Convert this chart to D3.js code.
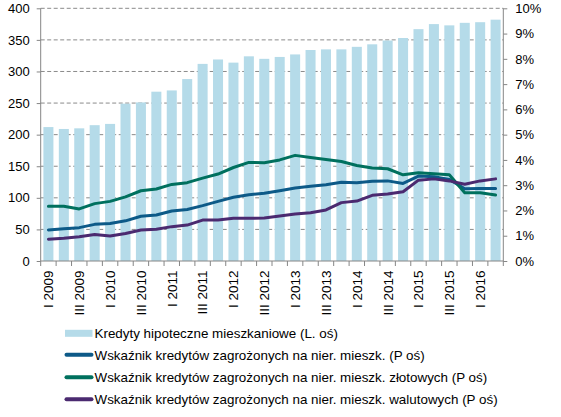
<!DOCTYPE html>
<html>
<head>
<meta charset="utf-8">
<script src="https://cdn.jsdelivr.net/npm/d3@7"></script>
<style>
  body { margin: 0; background: #fff; }
  text { font-family: "Liberation Sans", Arial, sans-serif; fill: #000; }
</style>
</head>
<body>
<div id="chart"></div>
<script>
// quarters 2009 Q1 .. 2016 Q2
const quarters = [
  "I 2009", "II 2009", "III 2009", "IV 2009",
  "I 2010", "II 2010", "III 2010", "IV 2010",
  "I 2011", "II 2011", "III 2011", "IV 2011",
  "I 2012", "II 2012", "III 2012", "IV 2012",
  "I 2013", "II 2013", "III 2013", "IV 2013",
  "I 2014", "II 2014", "III 2014", "IV 2014",
  "I 2015", "II 2015", "III 2015", "IV 2015",
  "I 2016", "II 2016"
]

// mortgage loans, left axis
const kredyty = [212, 209, 210, 215, 217, 249, 251, 268, 270, 288,
  312, 319, 314, 324, 320, 323, 327, 334, 335, 335,
  339, 343, 349, 353, 367, 375, 373, 377, 378, 382]

// NPL ratios, right axis (%)
const nplOgolem = [1.23, 1.28, 1.32, 1.45, 1.48, 1.59, 1.77, 1.82, 1.98, 2.04,
  2.19, 2.36, 2.52, 2.62, 2.68, 2.78, 2.89, 2.96, 3.02, 3.12,
  3.10, 3.16, 3.17, 3.07, 3.36, 3.33, 3.23, 2.86, 2.87, 2.87]
const nplPLN = [2.17, 2.17, 2.06, 2.27, 2.36, 2.54, 2.78, 2.85, 3.03, 3.10,
  3.28, 3.44, 3.70, 3.90, 3.89, 4.00, 4.18, 4.10, 4.02, 3.94,
  3.78, 3.68, 3.65, 3.41, 3.49, 3.45, 3.41, 2.70, 2.70, 2.61]
const nplWal = [0.86, 0.90, 0.96, 1.05, 0.99, 1.09, 1.23, 1.26, 1.36, 1.42,
  1.62, 1.62, 1.69, 1.69, 1.70, 1.78, 1.86, 1.91, 2.02, 2.31,
  2.37, 2.60, 2.65, 2.74, 3.20, 3.25, 3.17, 3.04, 3.17, 3.25]

const leftTicks = [0, 50, 100, 150, 200, 250, 300, 350, 400]
const rightTicks = [0, 1, 2, 3, 4, 5, 6, 7, 8, 9, 10]

const series = [
  { name: "Wskaźnik kredytów zagrożonych na nier. mieszk. (P oś)", values: nplOgolem, color: "#0d5a88" },
  { name: "Wskaźnik kredytów zagrożonych na nier. mieszk. złotowych (P oś)", values: nplPLN, color: "#00705e" },
  { name: "Wskaźnik kredytów zagrożonych na nier. mieszk. walutowych (P oś)", values: nplWal, color: "#4b2a70" }
]
const barName = "Kredyty hipoteczne mieszkaniowe (L. oś)"
const barColor = "#b5dbe9"

const width = 561
const height = 417
const plotLeft = 40.7, plotRight = 503.3, plotTop = 8.3, plotBottom = 261

const svg = d3.select("#chart")
  .append("svg")
  .attr("width", width)
  .attr("height", height)

const x = d3.scaleBand()
  .domain(quarters)
  .range([plotLeft, plotRight])
  .paddingInner(0.35)
  .paddingOuter(0.175)

const yL = d3.scaleLinear().domain([0, 400]).range([plotBottom, plotTop])
const yR = d3.scaleLinear().domain([0, 10]).range([plotBottom, plotTop])

// dashed grid behind bars
svg.append("g")
  .selectAll("line")
  .data(leftTicks.filter(d => d > 0))
  .enter()
  .append("line")
  .attr("x1", plotLeft)
  .attr("x2", plotRight)
  .attr("y1", d => yL(d))
  .attr("y2", d => yL(d))
  .style("stroke", "#8a8a8a")
  .style("stroke-width", 1)
  .style("stroke-dasharray", "4,2.5")

svg.append("g")
  .selectAll("rect")
  .data(kredyty)
  .enter()
  .append("rect")
  .attr("x", (d, i) => x(quarters[i]))
  .attr("width", x.bandwidth())
  .attr("y", d => yL(d))
  .attr("height", d => yL(0) - yL(d))
  .attr("fill", barColor)

// axes
const axisColor = "#868686"

const leftAxis = svg.append("g")
  .attr("transform", `translate(${plotLeft},0)`)
  .call(d3.axisLeft(yL).tickValues(leftTicks).tickSize(4).tickPadding(7))
const rightAxis = svg.append("g")
  .attr("transform", `translate(${plotRight},0)`)
  .call(d3.axisRight(yR).tickValues(rightTicks).tickSize(4).tickPadding(8).tickFormat(d => d + "%"))

;[leftAxis, rightAxis].forEach(a => {
  a.select(".domain").attr("stroke", axisColor).attr("d", `M0,${plotTop}V${plotBottom}`)
  a.selectAll(".tick line").attr("stroke", axisColor)
  a.selectAll(".tick text")
    .style("font-size", "13px")
    .style("font-family", "Liberation Sans, Arial, sans-serif")
    .attr("fill", "#000")
})

// x axis line and ticks at band edges
const xg = svg.append("g")
xg.append("line")
  .attr("x1", plotLeft).attr("x2", plotRight)
  .attr("y1", plotBottom).attr("y2", plotBottom)
  .style("stroke", axisColor)
xg.selectAll("line.tk")
  .data(d3.range(quarters.length + 1))
  .enter()
  .append("line")
  .attr("class", "tk")
  .attr("x1", i => plotLeft + i * x.step())
  .attr("x2", i => plotLeft + i * x.step())
  .attr("y1", plotBottom)
  .attr("y2", plotBottom + 5)
  .style("stroke", axisColor)

xg.selectAll("text")
  .data(quarters.filter((q, i) => i % 2 === 0))
  .enter()
  .append("text")
  .attr("transform", d => `translate(${x(d) + x.bandwidth() / 2},270.5) rotate(-90)`)
  .attr("dy", "0.36em")
  .attr("text-anchor", "end")
  .style("font-size", "13.5px")
  .text(d => d)

// lines
const line = d3.line()
  .x((d, i) => x(quarters[i]) + x.bandwidth() / 2)
  .y(d => yR(d))

series.forEach(s => {
  svg.append("path")
    .datum(s.values)
    .attr("d", line)
    .attr("fill", "none")
    .attr("stroke", s.color)
    .attr("stroke-width", 3)
    .attr("stroke-linejoin", "round")
    .attr("stroke-linecap", "round")
})

// legend
const legendRows = [333.3, 354.8, 377.3, 399.3]
const legend = svg.append("g")

legend.append("rect")
  .attr("x", 65)
  .attr("y", legendRows[0] - 3.5)
  .attr("width", 27.5)
  .attr("height", 7)
  .attr("fill", barColor)
legend.append("text")
  .attr("x", 94.5)
  .attr("y", legendRows[0])
  .attr("dy", "0.36em")
  .style("font-size", "13.4px")
  .text(barName)

series.forEach((s, i) => {
  const yy = legendRows[i + 1]
  legend.append("line")
    .attr("x1", 66.5).attr("x2", 91.5)
    .attr("y1", yy).attr("y2", yy)
    .attr("stroke", s.color)
    .attr("stroke-width", 4)
    .attr("stroke-linecap", "round")
  legend.append("text")
    .attr("x", 94.5)
    .attr("y", yy)
    .attr("dy", "0.36em")
    .style("font-size", "13.4px")
    .text(s.name)
})
</script>
</body>
</html>
